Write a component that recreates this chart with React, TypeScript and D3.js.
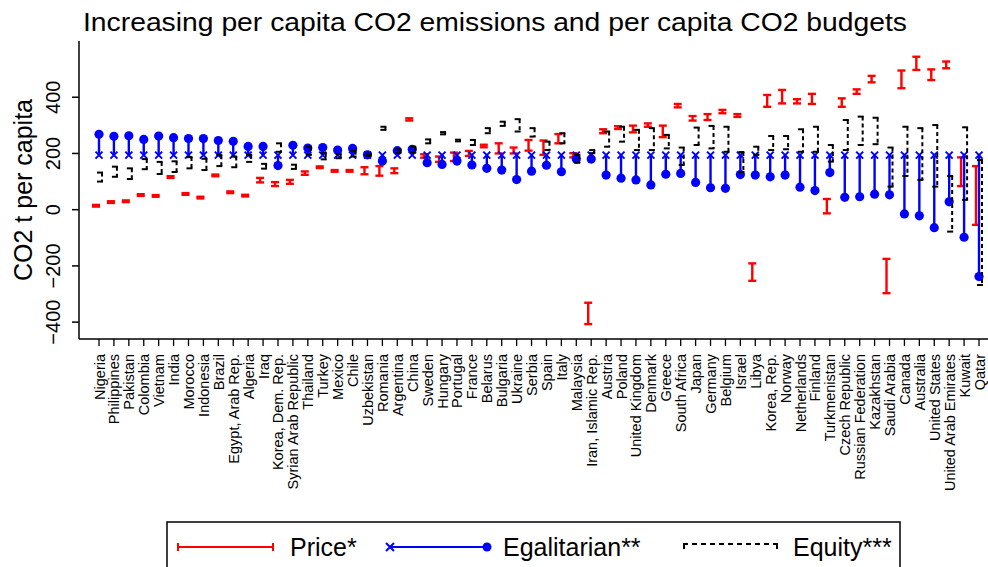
import React from 'react'
import * as d3 from 'd3'

const countries = [
  'Nigeria', 'Philippines', 'Pakistan', 'Colombia', 'Vietnam', 'India', 'Morocco', 'Indonesia', 'Brazil', 'Egypt, Arab Rep.',
  'Algeria', 'Iraq', 'Korea, Dem. Rep.', 'Syrian Arab Republic', 'Thailand', 'Turkey', 'Mexico', 'Chile', 'Uzbekistan', 'Romania',
  'Argentina', 'China', 'Sweden', 'Hungary', 'Portugal', 'France', 'Belarus', 'Bulgaria', 'Ukraine', 'Serbia',
  'Spain', 'Italy', 'Malaysia', 'Iran, Islamic Rep.', 'Austria', 'Poland', 'United Kingdom', 'Denmark', 'Greece', 'South Africa',
  'Japan', 'Germany', 'Belgium', 'Israel', 'Libya', 'Korea, Rep.', 'Norway', 'Netherlands', 'Finland', 'Turkmenistan',
  'Czech Republic', 'Russian Federation', 'Kazakhstan', 'Saudi Arabia', 'Canada', 'Australia', 'United States', 'United Arab Emirates', 'Kuwait', 'Qatar'
]

// Price* range (low / high)
const priceLow = [
  11, 24, 27, 49, 46, 113, 53, 40, 119, 59,
  47, 97, 84, 92, 124, 148, 135, 135, 126, 121,
  130, 317, 185, 170, 173, 191, 222, 200, 200, 210,
  195, 236, 186, -407, 272, 287, 275, 295, 258, 364,
  317, 319, 343, 330, -253, 366, 378, 378, 376, -13,
  366, 412, 453, -297, 432, 497, 461, 503, 84, -54
]
const priceHigh = [
  17, 30, 33, 55, 52, 119, 59, 46, 125, 65,
  53, 113, 98, 106, 136, 154, 141, 141, 151, 155,
  147, 325, 197, 189, 203, 209, 231, 236, 221, 248,
  246, 269, 201, -331, 286, 297, 299, 307, 299, 376,
  333, 340, 355, 340, -191, 408, 426, 393, 412, 38,
  396, 428, 476, -175, 495, 544, 499, 527, 186, 155
]

// Egalitarian** : from common start to country value
const egalitarianStart = 194
const egalitarian = [
  268, 261, 263, 250, 262, 256, 253, 253, 246, 243,
  225, 225, 157, 229, 219, 221, 212, 218, 195, 173,
  210, 215, 167, 161, 173, 159, 147, 141, 107, 137,
  158, 135, 180, 180, 123, 112, 106, 88, 126, 129,
  97, 78, 76, 125, 123, 117, 123, 80, 68, 132,
  44, 46, 55, 53, -15, -22, -64, 28, -98, -238
]

// Equity*** range (low / high)
const equityLow = [
  100, 117, 109, 144, 127, 134, 147, 141, 155, 151,
  170, 146, 206, 145, 195, 179, 183, 189, 192, 284,
  201, 203, 236, 268, 243, 230, 272, 298, 278, 260,
  212, 236, 167, 201, 224, 242, 212, 212, 218, 159,
  230, 218, 206, 134, 195, 212, 215, 206, 206, 171,
  212, 230, 233, 82, 120, 106, 82, -78, 35, -268
]
const equityHigh = [
  132, 153, 147, 180, 170, 172, 187, 181, 194, 189,
  195, 163, 236, 160, 224, 201, 198, 210, 199, 295,
  215, 224, 250, 276, 249, 248, 290, 313, 322, 290,
  242, 272, 195, 212, 278, 295, 284, 290, 266, 221,
  292, 298, 295, 205, 224, 262, 262, 286, 295, 230,
  319, 331, 327, 221, 295, 290, 301, 120, 293, 177
]

const yTicks = [400, 200, 0, -200, -400]

const FONT = '"Liberation Sans", Arial, Helvetica, sans-serif'
const RED = '#ff0000'
const BLUE = '#0000ff'

const App = () => {
  const width = 988
  const height = 567
  const x = d3.scalePoint<string>().domain(countries).range([99, 979])
  const y = d3.scaleLinear().domain([-460, 600]).range([339, 41])
  const fmt = d3.format('d')

  const xMark = (cx: number, cy: number, s: number, color: string, key?: string) => (
    <path key={key} d={`M${cx - s},${cy - s}L${cx + s},${cy + s}M${cx - s},${cy + s}L${cx + s},${cy - s}`} stroke={color} strokeWidth={2} />
  )

  return (
    <svg width={width} height={height} style={{ position: 'absolute', left: 0, top: 0, background: '#fff' }} fontFamily={FONT}>
      <rect width={width} height={height} fill="#fff" />
      <text x={83} y={31} fontSize={25} textLength={824} lengthAdjust="spacingAndGlyphs">
        Increasing per capita CO2 emissions and per capita CO2 budgets
      </text>

      {/* y axis */}
      <line x1={79} x2={79} y1={y(600)} y2={339} stroke="#000" strokeWidth={1.5} />
      {yTicks.map(t => (
        <g key={t}>
          <line x1={72} x2={79} y1={y(t)} y2={y(t)} stroke="#000" strokeWidth={1.5} />
          <text transform={`translate(60,${y(t)}) rotate(-90)`} textAnchor="middle" fontSize={20}>{fmt(t)}</text>
        </g>
      ))}
      <text transform="translate(32,190) rotate(-90)" textAnchor="middle" fontSize={25}>CO2 t per capita</text>

      {/* x axis */}
      <line x1={79} x2={988} y1={339} y2={339} stroke="#000" strokeWidth={1.5} />
      {countries.map(c => (
        <g key={c}>
          <line x1={x(c)} x2={x(c)} y1={339} y2={346} stroke="#000" strokeWidth={1.3} />
          <text transform={`translate(${(x(c) ?? 0) + 5.5},354) rotate(-90)`} textAnchor="end" fontSize={14.5}>{c}</text>
        </g>
      ))}

      {/* price ranges */}
      {countries.map((c, i) => {
        const cx = (x(c) ?? 0) - 3
        const y1 = y(priceHigh[i])
        const y2 = y(priceLow[i])
        return (
          <g key={'p' + c} stroke={RED} strokeWidth={2.4}>
            <line x1={cx} x2={cx} y1={y1} y2={y2} />
            <line x1={cx - 4} x2={cx + 4} y1={y1} y2={y1} />
            <line x1={cx - 4} x2={cx + 4} y1={y2} y2={y2} />
          </g>
        )
      })}

      {/* egalitarian */}
      {countries.map((c, i) => {
        const cx = x(c) ?? 0
        return (
          <g key={'e' + c}>
            <line x1={cx} x2={cx} y1={y(egalitarianStart)} y2={y(egalitarian[i])} stroke={BLUE} strokeWidth={2.4} />
            {xMark(cx, y(egalitarianStart), 3.5, BLUE)}
            <circle cx={cx} cy={y(egalitarian[i])} r={4.6} fill={BLUE} />
          </g>
        )
      })}

      {/* equity brackets */}
      {countries.map((c, i) => {
        const cx = (x(c) ?? 0) + 3
        const y1 = y(equityHigh[i])
        const y2 = y(equityLow[i])
        return (
          <g key={'q' + c} stroke="#000" strokeWidth={2}>
            <line x1={cx} x2={cx} y1={y1} y2={y2} strokeDasharray="4 3" />
            <line x1={cx - 5} x2={cx + 1} y1={y1} y2={y1} />
            <line x1={cx - 5} x2={cx + 1} y1={y2} y2={y2} />
          </g>
        )
      })}

      {/* legend */}
      <rect x={167} y={522} width={733} height={70} fill="#fff" stroke="#000" strokeWidth={1.5} />
      <g stroke={RED} strokeWidth={2}>
        <line x1={178} x2={273} y1={547} y2={547} />
        <line x1={178} x2={178} y1={543} y2={551} />
        <line x1={273} x2={273} y1={543} y2={551} />
      </g>
      <text x={290} y={556} fontSize={25}>Price*</text>
      <line x1={390} x2={487} y1={547} y2={547} stroke={BLUE} strokeWidth={2} />
      {xMark(390, 547, 4, BLUE)}
      <circle cx={487} cy={547} r={4.5} fill={BLUE} />
      <text x={503} y={556} fontSize={25}>Egalitarian**</text>
      <g stroke="#000" strokeWidth={2}>
        <line x1={683} x2={778} y1={544} y2={544} strokeDasharray="5 4" />
        <line x1={684} x2={684} y1={543} y2={549} />
        <line x1={777} x2={777} y1={543} y2={549} />
      </g>
      <text x={793} y={556} fontSize={25}>Equity***</text>
    </svg>
  )
}

export default App
